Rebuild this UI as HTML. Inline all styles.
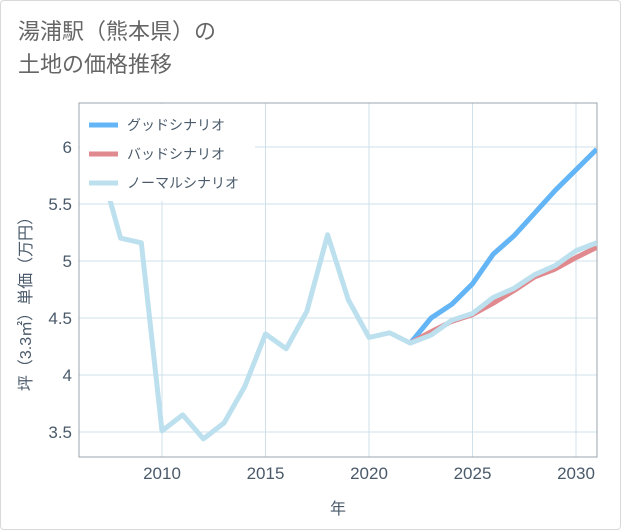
<!DOCTYPE html>
<html><head><meta charset="utf-8"><style>
html,body{margin:0;padding:0;background:#fff;}
#wrap{position:relative;width:619px;height:528px;border:1px solid #d9d9d9;border-radius:4px;overflow:hidden;font-family:"Liberation Sans","Noto Sans CJK JP",sans-serif;}
#title{position:absolute;left:17px;top:14px;font-size:22px;line-height:33px;color:#666;}
</style></head><body>
<div id="wrap">
<div id="title">湯浦駅（熊本県）の<br>土地の価格推移</div>
<svg id="chart" width="621" height="530" style="position:absolute;left:-1px;top:-1px"></svg>
</div>
<script>
const years=[2007,2008,2009,2010,2011,2012,2013,2014,2015,2016,2017,2018,2019,2020,2021,2022,2023,2024,2025,2026,2027,2028,2029,2030,2031];
const normal=[5.85,5.2,5.16,3.51,3.65,3.44,3.58,3.9,4.36,4.23,4.56,5.23,4.66,4.33,4.37,4.28,4.35,4.48,4.54,4.68,4.76,4.88,4.96,5.09,5.16];
const fYears=[2022,2023,2024,2025,2026,2027,2028,2029,2030,2031];
const good=[4.28,4.5,4.62,4.8,5.06,5.22,5.42,5.62,5.8,5.98];
const bad=[4.28,4.38,4.47,4.53,4.63,4.74,4.86,4.93,5.03,5.12];
const xTicks=[2010,2015,2020,2025,2030];
const yTicks=[3.5,4,4.5,5,5.5,6];
const legendLabels=["グッドシナリオ","バッドシナリオ","ノーマルシナリオ"];
const colors=["#64b5f6","#e08a8f","#bde0ee"];
const NS="http://www.w3.org/2000/svg";
const svg=document.getElementById('chart');
const L=79,R=597,T=103,B=457;
const x=v=>162+(v-2010)*20.7;
const y=v=>147+(6-v)*114;
function mk(tag,attrs,parent){const e=document.createElementNS(NS,tag);for(const k in attrs)e.setAttribute(k,attrs[k]);(parent||svg).appendChild(e);return e;}
const defs=mk('defs',{});const cp=mk('clipPath',{id:'clip'},defs);mk('rect',{x:L,y:T,width:R-L,height:B-T},cp);
const grid=mk('g',{});
xTicks.forEach(t=>{mk('line',{x1:x(t),x2:x(t),y1:T,y2:B,stroke:'#cfe0ea','stroke-width':1},grid);
 const tx=mk('text',{x:x(t),y:479,'text-anchor':'middle','font-size':17,fill:'#4a5a6a'});tx.textContent=t;
 });
yTicks.forEach(t=>{mk('line',{x1:L,x2:R,y1:y(t),y2:y(t),stroke:'#cfe0ea','stroke-width':1},grid);
 const tx=mk('text',{x:72,y:y(t)+6,'text-anchor':'end','font-size':17,fill:'#4a5a6a'});tx.textContent=t;
 });
mk('rect',{x:L,y:T,width:R-L,height:B-T,fill:'none',stroke:'#9aa5ae','stroke-width':1});
const xt=mk('text',{x:338,y:514,'text-anchor':'middle','font-size':16,fill:'#4a5a6a'});xt.textContent='年';

const yt=mk('text',{x:0,y:0,'text-anchor':'middle','font-size':16,fill:'#4a5a6a',transform:'translate(31,300) rotate(-90)'});yt.textContent='坪（3.3㎡）単価（万円）';

function line(xs,vs,col,name){const p=mk('polyline',{points:xs.map((v,i)=>x(v)+','+y(vs[i])).join(' '),fill:'none',stroke:col,'stroke-width':5,'stroke-linejoin':'round','clip-path':'url(#clip)'});
 }
line(fYears,good,colors[0],'good-scenario-line');
line(fYears,bad,colors[1],'bad-scenario-line');
line(years,normal,colors[2],'normal-scenario-line');
const lg=mk('g',{});
mk('rect',{x:80,y:104,width:175,height:97,fill:'#fff'},lg);
legendLabels.forEach((s,i)=>{const yy=125+i*29;
 mk('line',{x1:89,x2:118,y1:yy,y2:yy,stroke:colors[i],'stroke-width':5},lg);
 const t=mk('text',{x:127,y:yy+5,'font-size':14,fill:'#4a5a6a'},lg);t.textContent=s;
 });
</script>
</body></html>
